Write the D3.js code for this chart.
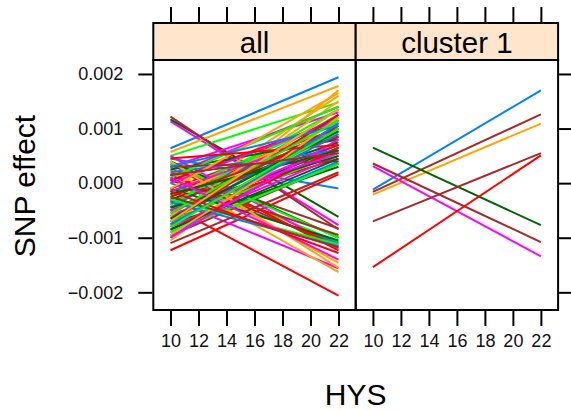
<!DOCTYPE html>
<html>
<head>
<meta charset="utf-8">
<script src="https://cdn.jsdelivr.net/npm/d3@7"></script>
<style>
  body { margin: 0; background: #fff; }
  svg { display: block; font-family: "Liberation Sans", Arial, sans-serif; }
</style>
</head>
<body>
<svg id="drawing_region"></svg>
<script>
// panels and axes
const panels = ["all", "cluster 1"];
const hysRange = [10, 22];
const xTicks = [10, 12, 14, 16, 18, 20, 22];
const yTicks = [-0.002, -0.001, 0, 0.001, 0.002];
const yTickLabels = ["\u22120.002", "\u22120.001", "0.000", "0.001", "0.002"];
const lineColors = ["#0080ff", "#ff00ff", "#006400", "#ff0000", "#ffa500", "#00ff00", "#a52a2a"];

// "all" panel: SNP effect at HYS 10 and HYS 22 (colour cycles by index)
const allStart = [
   0.00064,  0.00113,  0.00117, -0.00042,  0.00057,  0.00050,  0.00122,
   0.00045,  0.00030, -0.00060, -0.00123, -0.00080,  0.00020, -0.00096,
  -0.00020, -0.00030,  0.00005,  0.00035,  0.00010, -0.00050, -0.00070,
  -0.00090,  0.00015, -0.00030, -0.00010, -0.00040, -0.00020,  0.00025,
   0.00000, -0.00060,  0.00040, -0.00050,  0.00025, -0.00070, -0.00015,
  -0.00045,  0.00050, -0.00075,  0.00005, -0.00060,  0.00035, -0.00035,
   0.00020, -0.00080, -0.00010,  0.00015, -0.00025, -0.00040,  0.00005,
  -0.00065, -0.00015,  0.00025, -0.00085,  0.00040, -0.00090, -0.00055,
  -0.00035,  0.00000, -0.00045, -0.00025, -0.00105,  0.00010,  0.00030,
  -0.00100, -0.00050, -0.00085, -0.00070, -0.00010, -0.00030, -0.00110,
   0.00030, -0.00100, -0.00020,  0.00045, -0.00095, -0.00055, -0.00025,
  -0.00075,  0.00010, -0.00065, -0.00015, -0.00070, -0.00080,  0.00015
];
const allEnd = [
   0.00194, -0.00077, -0.00062, -0.00206,  0.00178,  0.00148, -0.00085,
  -0.00010,  0.00130,  0.00065,  0.00016,  0.00170, -0.00108,  0.00036,
   0.00085, -0.00156,  0.00110, -0.00123, -0.00163,  0.00090,  0.00060,
   0.00040,  0.00140,  0.00075,  0.00100,  0.00160,  0.00120, -0.00083,
  -0.00110,  0.00070, -0.00100,  0.00045, -0.00146,  0.00055,  0.00085,
   0.00125, -0.00120,  0.00030,  0.00115,  0.00150, -0.00100,  0.00070,
   0.00060,  0.00050, -0.00105, -0.00115,  0.00110,  0.00135, -0.00095,
   0.00100,  0.00095,  0.00080,  0.00065, -0.00155,  0.00035,  0.00105,
  -0.00115,  0.00115,  0.00050,  0.00085,  0.00120,  0.00140,  0.00040,
   0.00110,  0.00055,  0.00045,  0.00125,  0.00165, -0.00112,  0.00020,
   0.00105,  0.00080,  0.00060,  0.00070,  0.00100,  0.00115, -0.00118,
   0.00090, -0.00140,  0.00095, -0.00128,  0.00135,  0.00100,  0.00055
];

// "cluster 1" panel
const clusterStart = [-0.00012, -0.00016, -0.00021,  0.00065,  0.00036,  0.00031, -0.00070, -0.00154];
const clusterEnd   = [ 0.00170,  0.00126,  0.00109, -0.00077, -0.00108, -0.00134,  0.00055,  0.00051];
const clusterColor = [0, 6, 4, 2, 6, 1, 6, 3];

const config = {
  width: 571,
  height: 410,
  left: 153.3,
  panelWidth: 202.4,
  stripTop: 23,
  stripBottom: 60,
  bottom: 310
};

const svg = d3.select("#drawing_region")
  .attr("width", config.width)
  .attr("height", config.height);

const yscale = d3.scaleLinear()
  .domain([-0.002324, 0.002256])
  .range([config.bottom, config.stripBottom]);

const xscales = panels.map((p, i) => d3.scaleLinear()
  .domain([8.77, 23.23])
  .range([config.left + i * config.panelWidth, config.left + (i + 1) * config.panelWidth]));

const panelData = [
  allStart.map((s, i) => ({ s: s, e: allEnd[i], c: lineColors[i % lineColors.length] })),
  clusterStart.map((s, i) => ({ s: s, e: clusterEnd[i], c: lineColors[clusterColor[i]] }))
];

const line = (xs) => d3.line()
  .x(d => xs(d[0]))
  .y(d => yscale(d[1]));

panels.forEach((name, i) => {
  const xs = xscales[i];
  const g = svg.append("g");
  const x0 = xs.range()[0], x1 = xs.range()[1];

  // clip each panel
  svg.append("clipPath").attr("id", "clip" + i)
    .append("rect")
    .attr("x", x0).attr("y", config.stripBottom)
    .attr("width", x1 - x0).attr("height", config.bottom - config.stripBottom);

  g.append("g")
    .attr("clip-path", `url(#clip${i})`)
    .selectAll("path")
    .data(panelData[i])
    .join("path")
    .attr("d", d => line(xs)([[hysRange[0], d.s], [hysRange[1], d.e]]))
    .attr("fill", "none")
    .attr("stroke", d => d.c)
    .attr("stroke-width", 2);

  // strip
  g.append("rect")
    .attr("x", x0).attr("y", config.stripTop)
    .attr("width", x1 - x0).attr("height", config.stripBottom - config.stripTop)
    .attr("fill", "#ffe5cc")
    .attr("stroke", "black")
    .attr("stroke-width", 2);

  g.append("text")
    .attr("x", (x0 + x1) / 2)
    .attr("y", 52.5)
    .attr("text-anchor", "middle")
    .attr("font-size", "29.5px")
    .text(name);

  // panel border
  g.append("rect")
    .attr("x", x0).attr("y", config.stripBottom)
    .attr("width", x1 - x0).attr("height", config.bottom - config.stripBottom)
    .attr("fill", "none")
    .attr("stroke", "black")
    .attr("stroke-width", 2);

  // bottom ticks + labels
  const xaxisB = d3.axisBottom(xs).tickValues(xTicks).tickSize(15).tickSizeOuter(0).tickPadding(8);
  const gb = g.append("g")
    .attr("transform", `translate(0, ${config.bottom + 1})`)
    .call(xaxisB);
  gb.select(".domain").remove();
  gb.selectAll("line").attr("stroke", "black").attr("stroke-width", 2);
  gb.selectAll("text").attr("font-size", "18px").attr("font-family", null).attr("fill", "#111");

  // top ticks, no labels
  const xaxisT = d3.axisTop(xs).tickValues(xTicks).tickSize(15).tickSizeOuter(0).tickFormat("");
  const gt = g.append("g")
    .attr("transform", `translate(0, ${config.stripTop - 1})`)
    .call(xaxisT);
  gt.select(".domain").remove();
  gt.selectAll("line").attr("stroke", "black").attr("stroke-width", 2);
});

// left axis with labels
const yaxisL = d3.axisLeft(yscale).tickValues(yTicks).tickSize(14).tickSizeOuter(0)
  .tickPadding(15).tickFormat((d, i) => yTickLabels[i]);
const gl = svg.append("g")
  .attr("transform", `translate(${config.left - 1}, 0)`)
  .call(yaxisL);
gl.select(".domain").remove();
gl.selectAll("line").attr("stroke", "black").attr("stroke-width", 2);
gl.selectAll("text").attr("font-size", "18px").attr("font-family", null).attr("fill", "#111");

// right ticks
const yaxisR = d3.axisRight(yscale).tickValues(yTicks).tickSize(14).tickSizeOuter(0).tickFormat("");
const gr = svg.append("g")
  .attr("transform", `translate(${config.left + 2 * config.panelWidth + 1}, 0)`)
  .call(yaxisR);
gr.select(".domain").remove();
gr.selectAll("line").attr("stroke", "black").attr("stroke-width", 2);

// axis titles
svg.append("text")
  .attr("x", config.left + config.panelWidth)
  .attr("y", 405)
  .attr("text-anchor", "middle")
  .attr("font-size", "30px")
  .text("HYS");

svg.append("text")
  .attr("transform", `translate(35, 186) rotate(-90)`)
  .attr("text-anchor", "middle")
  .attr("font-size", "30px")
  .text("SNP effect");
</script>
</body>
</html>
